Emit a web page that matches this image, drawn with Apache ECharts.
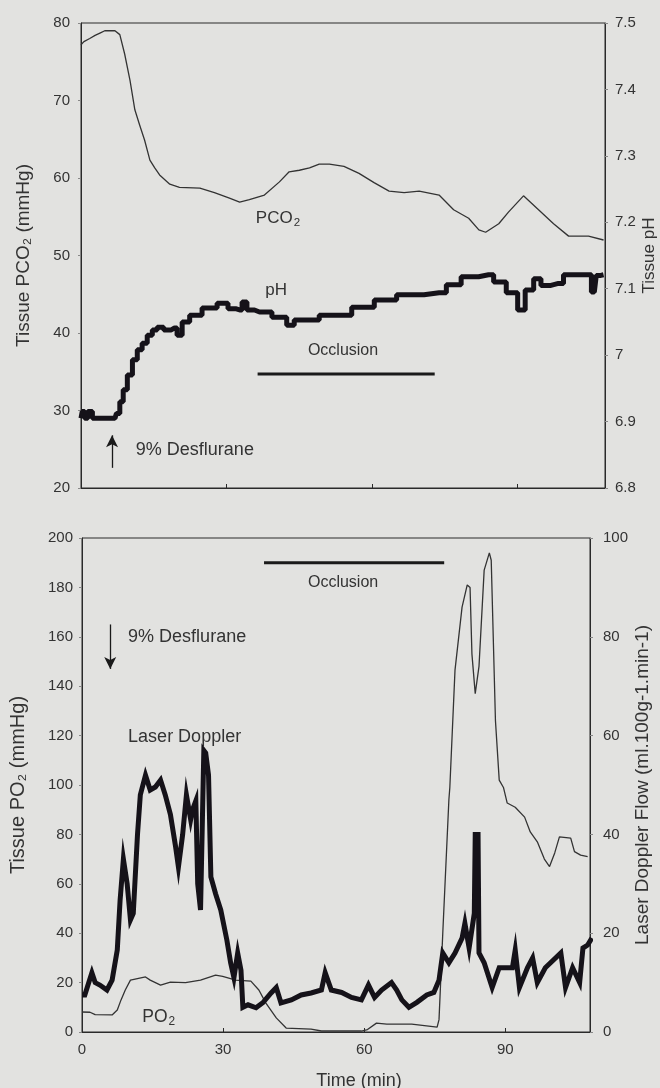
<!DOCTYPE html>
<html>
<head>
<meta charset="utf-8">
<script src="https://cdn.jsdelivr.net/npm/echarts@6/dist/echarts.min.js"></script>
<style>
html,body{margin:0;padding:0;background:#e2e2e0}
#main{width:660px;height:1088px}
</style>
</head>
<body>
<div id="main"></div>
<script>
// top panel: tissue PCO2 (mmHg, left) and pH (right)
var pco2Time = [0,0.6,1.8,2.9,3.9,4.9,7.0,8.0,9.0,10.1,11.1,12.1,13.1,14.2,15.2,16.2,18.3,20.3,24.5,27.5,30.6,32.7,34.7,37.8,40.9,42.9,45.0,47.1,49.1,51.2,54.2,57.3,60.4,63.5,66.6,69.7,73.8,76.8,79.9,82.0,83.4,86.1,88.1,91.2,94.3,97.4,100.5,104.6,107.7];
var pco2Vals = [77.2,77.6,78,78.4,78.7,79,79,78.5,76,72.6,68.8,66.8,64.9,62.3,61.3,60.4,59.2,58.8,58.7,58.1,57.4,56.9,57.2,57.8,59.5,60.8,61,61.3,61.8,61.8,61.5,60.6,59.4,58.3,58.1,58.3,57.8,55.9,54.8,53.3,53,54.1,55.6,57.7,55.9,54.1,52.5,52.5,52];

var phTime = [0,0.5,1.0,1.8,2.9,7.0,7.6,8.4,9.0,10.1,11.1,12.1,13.1,14.2,15.2,16.2,17.9,19.3,20.3,21.4,23.4,26.5,29.6,31.0,32.7,33.7,34.7,36.8,41.9,42.9,45.0,53.2,58.4,62.5,67.6,73.8,76.8,79.9,84.0,86.1,89.2,90.8,92.3,94.3,95.3,98.4,100.5,104.6,105.8,106.6,107.7];
var phVals = [6.905,6.915,6.905,6.915,6.905,6.905,6.912,6.93,6.948,6.97,6.993,7.008,7.018,7.03,7.038,7.042,7.038,7.041,7.03,7.05,7.06,7.071,7.078,7.07,7.068,7.08,7.068,7.065,7.057,7.045,7.053,7.06,7.072,7.083,7.091,7.094,7.106,7.118,7.121,7.11,7.094,7.068,7.098,7.115,7.105,7.108,7.121,7.121,7.095,7.12,7.121];

// bottom panel: tissue PO2 (mmHg, left) and laser Doppler flow (right)
var po2Time = [0,1.7,2.8,6.4,7.5,8.3,9.2,10.3,13.5,14.5,16.7,18.8,22.0,25.2,28.4,29.9,32.7,35.9,37.6,39.1,41.3,43.4,48.7,50.9,59.4,60.7,62.6,64.8,69.0,70.1,75.5,75.9,76.7,78.0,78.2,79.3,80.8,81.9,82.5,82.9,83.6,84.4,85.5,86.6,87.0,87.9,88.7,89.6,90.4,92.1,94.1,95.3,96.8,98.3,99.4,100.5,101.5,103.9,104.7,106.0,107.5];
var po2Vals = [8.1,8,7,6.9,8.9,13,17,21,22.3,21,19,20.2,20,21,23,22.5,21,20.6,17,11.7,5.7,1.6,1.2,0.4,0.4,1,3.6,3.2,3.2,3.2,2,5,40,94,99,146.5,172,181,180,153,137,148,187,194,191,126,102,99,92.7,91,87,81,77,70,67,72.5,79,78.5,73,71.6,71];

var ldTime = [0,0.6,2.1,2.8,3.8,5.3,6.4,7.5,8.1,8.8,9.6,10.3,10.9,11.8,12.4,13.5,14.5,15.6,16.7,17.7,18.8,19.9,20.5,21.4,22.2,23.1,23.5,24.2,24.6,25.2,25.9,26.3,26.9,27.4,28.4,29.5,30.8,31.6,32.3,33.1,33.8,34.2,35.3,37.0,38.5,40.2,41.3,42.3,44.5,46.6,48.7,50.9,51.7,53.0,55.2,57.3,59.4,60.9,62.2,63.7,65.8,66.9,68.0,69.5,71.2,73.3,74.8,75.9,76.7,78.0,79.3,80.8,81.4,82.3,83.4,83.6,84.2,84.4,85.5,87.2,88.7,91.5,92.1,93.0,94.7,95.8,96.8,98.5,101.8,102.8,104.3,105.8,106.5,107.5,108.4];
var ldVals = [7.5,7.5,12,10,9.5,8.5,10.5,16.6,26.7,35,30,22.7,24,40,48,52,49,49.6,51,48,44,37.5,33.4,40,48,43,45,46.8,30,24.7,57,56.5,52,31.4,28,24.7,18.6,14,11,16,12.5,5,5.5,4.9,6,7.9,9,5.9,6.5,7.5,7.9,8.5,12,8.5,8,7,6.5,9.5,7,8.5,10,8.5,6.5,5,6,7.5,8,10.5,16,14,16,19,22,17,24,40,40,16,14,9,13,13,16.6,9,13,15,10,13,16,9,13,10,17,17.6,19];

var topOcclusion = [36.4, 72.9];
var bottomOcclusion = [38.7, 77];
var timeTicks = ['0', '30', '60', '90'];

function pairs(t, v) {
    var out = [];
    for (var i = 0; i < t.length; i++) out.push([t[i], v[i]]);
    return out;
}

var ink = '#2a2a2a';
var font = 'Liberation Sans, Arial, sans-serif';

function yAxis(gi, pos, min, max, interval, name, gap, nameSize, margin, fmt) {
    return {
        type: 'value', gridIndex: gi, position: pos, min: min, max: max, interval: interval,
        name: name, nameLocation: 'middle', nameGap: gap, nameRotate: 90, nameMoveOverlap: false,
        nameTextStyle: {color: '#333', fontSize: nameSize, fontFamily: font},
        axisLine: {show: true, lineStyle: {color: ink, width: 1}},
        axisTick: {show: true, length: 3, lineStyle: {color: '#888'}},
        axisLabel: {margin: margin, color: '#333', fontSize: 15, fontFamily: font, formatter: fmt},
        splitLine: {show: false}
    };
}

function xAxis(gi, showLabels) {
    return {
        type: 'value', gridIndex: gi, min: 0, max: 108, interval: 30,
        name: showLabels ? 'Time (min)' : '', nameLocation: 'middle', nameGap: 40, nameMoveOverlap: false,
        nameTextStyle: {color: '#333', fontSize: 18, fontFamily: font, padding: [0, 0, 0, 46]},
        axisLine: {show: true, lineStyle: {color: ink, width: 1}},
        axisTick: {show: true, inside: true, length: 4, lineStyle: {color: ink}},
        axisLabel: {show: showLabels, margin: 10, color: '#333', fontSize: 15, fontFamily: font,
            showMaxLabel: false, formatter: function (v) { return timeTicks.indexOf(String(v)) >= 0 ? String(v) : ''; }},
        splitLine: {show: false}
    };
}

var chart = echarts.init(document.getElementById('main'));
var option = {
    backgroundColor: '#e2e2e0',
    animation: false,
    grid: [
        {left: 81, top: 23, width: 524, height: 465, show: true, borderColor: ink, borderWidth: 1,
            backgroundColor: 'transparent', containLabel: false, outerBoundsMode: 'none'},
        {left: 82, top: 538, width: 508, height: 494, show: true, borderColor: ink, borderWidth: 1,
            backgroundColor: 'transparent', containLabel: false, outerBoundsMode: 'none'}
    ],
    xAxis: [xAxis(0, false), xAxis(1, true)],
    yAxis: [
        yAxis(0, 'left', 20, 80, 10, 'Tissue PCO\u2082 (mmHg)', 48, 19, 11),
        yAxis(0, 'right', 6.8, 7.5, 0.1, 'Tissue pH', 36, 17, 10, function (v) { return String(+v.toFixed(1)); }),
        yAxis(1, 'left', 0, 200, 20, 'Tissue PO\u2082 (mmHg)', 54, 20, 9),
        yAxis(1, 'right', 0, 100, 20, 'Laser Doppler Flow (ml.100g-1.min-1)', 43, 19, 13)
    ],
    series: [
        {name: 'PCO2', type: 'line', xAxisIndex: 0, yAxisIndex: 0, data: pairs(pco2Time, pco2Vals),
            symbol: 'none', lineStyle: {color: '#333', width: 1.3}},
        {name: 'pH', type: 'line', step: 'middle', xAxisIndex: 0, yAxisIndex: 1, data: pairs(phTime, phVals),
            symbol: 'none', lineStyle: {color: '#151219', width: 5}},
        {name: 'Occlusion top', type: 'line', xAxisIndex: 0, yAxisIndex: 0,
            data: [[topOcclusion[0], 34.7], [topOcclusion[1], 34.7]], symbol: 'none', lineStyle: {color: '#1a1a1a', width: 3},
            markLine: {silent: true, symbol: ['none', 'arrow'], symbolSize: [9, 12], label: {show: false},
                lineStyle: {color: '#1a1a1a', width: 1.3, type: 'solid'},
                data: [[{coord: [6.4, 22.6]}, {coord: [6.4, 26.8]}]]}},
        {name: 'PO2', type: 'line', xAxisIndex: 1, yAxisIndex: 2, data: pairs(po2Time, po2Vals),
            symbol: 'none', lineStyle: {color: '#333', width: 1.3}},
        {name: 'Laser Doppler', type: 'line', xAxisIndex: 1, yAxisIndex: 3, data: pairs(ldTime, ldVals),
            symbol: 'none', lineStyle: {color: '#151219', width: 5, join: 'miter'}},
        {name: 'Occlusion bottom', type: 'line', xAxisIndex: 1, yAxisIndex: 2,
            data: [[bottomOcclusion[0], 190], [bottomOcclusion[1], 190]], symbol: 'none', lineStyle: {color: '#1a1a1a', width: 3},
            markLine: {silent: true, symbol: ['none', 'arrow'], symbolSize: [9, 12], label: {show: false},
                lineStyle: {color: '#1a1a1a', width: 1.3, type: 'solid'},
                data: [[{coord: [6.0, 165]}, {coord: [6.0, 147]}]]}}
    ]
};
chart.setOption(option);

// text notes placed in data coordinates
var notes = [
    {grid: [0, 0], at: [40.6, 54.8], text: '{a|PCO}{s|2}', size: 17, align: 'center'},
    {grid: [0, 0], at: [40.2, 45.5], text: '{a|pH}', size: 17, align: 'center'},
    {grid: [0, 0], at: [54, 37.7], text: '{a|Occlusion}', size: 16, align: 'center'},
    {grid: [0, 0], at: [11.3, 24.9], text: '{a|9% Desflurane}', size: 18, align: 'left'},
    {grid: [1, 2], at: [55.5, 182], text: '{a|Occlusion}', size: 16, align: 'center'},
    {grid: [1, 2], at: [9.8, 160], text: '{a|9% Desflurane}', size: 18, align: 'left'},
    {grid: [1, 2], at: [9.8, 119.4], text: '{a|Laser Doppler}', size: 18, align: 'left'},
    {grid: [1, 2], at: [12.8, 6], text: '{a|PO}{s|2}', size: 17.5, align: 'left'}
];
var graphics = notes.map(function (n) {
    var p = chart.convertToPixel({xAxisIndex: n.grid[0], yAxisIndex: n.grid[1]}, n.at);
    return {
        type: 'text', x: p[0], y: p[1], silent: true,
        style: {
            text: n.text, align: n.align, verticalAlign: 'middle',
            rich: {
                a: {fontSize: n.size, fontFamily: font, fill: '#333', color: '#333'},
                s: {fontSize: n.size * 0.68, fontFamily: font, fill: '#333', color: '#333', padding: [n.size * 0.5, 0, 0, 1]}
            }
        }
    };
});
chart.setOption({graphic: graphics});
</script>
</body>
</html>
